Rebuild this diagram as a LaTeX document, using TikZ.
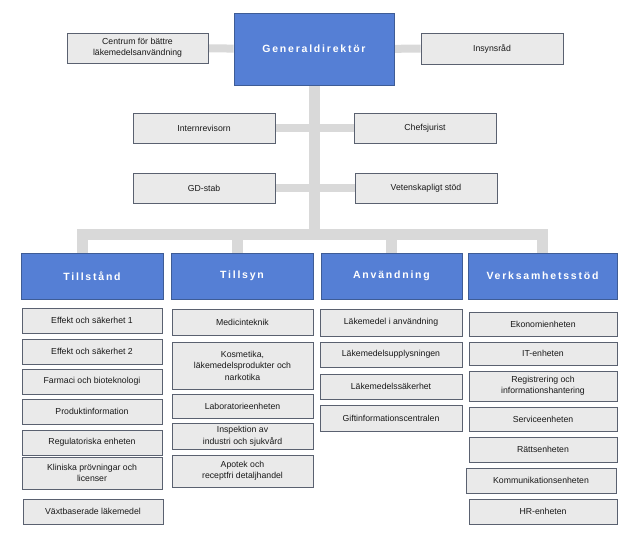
\documentclass[tikz,border=0pt]{standalone}
\usepackage{fontspec}
\setmainfont{Liberation Sans}
\newfontfamily\hdfont[LetterSpace=17]{Liberation Sans}
\usetikzlibrary{backgrounds,calc}
\definecolor{bluefill}{RGB}{85,127,213}
\definecolor{blueline}{RGB}{62,92,150}
\definecolor{grayfill}{RGB}{234,234,234}
\definecolor{grayline}{RGB}{90,97,112}
\definecolor{connc}{RGB}{217,217,217}
\tikzset{
  box/.style={draw=grayline, fill=grayfill, line width=0.9pt, align=center, inner sep=1pt,
    text=black!90, font=\fontsize{8.7}{11.5}\selectfont},
  head/.style={draw=blueline, fill=bluefill, line width=0.9pt, align=center, inner sep=1pt,
    text=white, font=\hdfont\bfseries\fontsize{10.5}{12}\selectfont},
  conn/.style={draw=connc, line width=8pt},
  trunk/.style={draw=connc, line width=11pt},
}
\begin{document}
\begin{tikzpicture}[x=1pt,y=-1pt]
\useasboundingbox (0,0) rectangle (638,534);
% top
\node[head, minimum width=160pt, minimum height=72pt] (gd) at (314,49) {Generaldirektör};
\node[box, minimum width=141pt, minimum height=30pt] (cent) at (137.5,48) {Centrum för bättre\\läkemedelsanvändning};
\node[box, minimum width=142pt, minimum height=31pt] (insyn) at (492,48.5) {Insynsråd};
\node[box, minimum width=142pt, minimum height=30pt] (intern) at (204,128) {Internrevisorn};
\node[box, minimum width=142pt, minimum height=30pt] (chef) at (425,128) {Chefsjurist};
\node[box, minimum width=142pt, minimum height=30pt] (gdstab) at (204,188) {GD-stab};
\node[box, minimum width=142pt, minimum height=30pt] (vet) at (426,188) {Vetenskapligt stöd};
\coordinate (bar) at (315,235);
% headers
\node[head, minimum width=142pt, minimum height=46pt] (t1) at (92,276) {Tillstånd};
\node[head, minimum width=142pt, minimum height=46pt] (t2) at (242,276) {Tillsyn};
\node[head, minimum width=141pt, minimum height=46pt] (t3) at (391.5,276) {Användning};
\node[head, minimum width=149pt, minimum height=46pt] (t4) at (542.5,276) {Verksamhetsstöd};
% Tillstand
\node[box, minimum width=140pt, minimum height=25pt] (e1) at (92,320.5) {Effekt och säkerhet 1};
\node[box, minimum width=140pt, minimum height=25pt] (e2) at (92,351.5) {Effekt och säkerhet 2};
\node[box, minimum width=140pt, minimum height=25pt] (farm) at (92,381.5) {Farmaci och bioteknologi};
\node[box, minimum width=140pt, minimum height=25pt] (prod) at (92,411.5) {Produktinformation};
\node[box, minimum width=140pt, minimum height=25pt] (reg) at (92,442.5) {Regulatoriska enheten};
\node[box, minimum width=140pt, minimum height=32pt] (klin) at (92,473) {Kliniska prövningar och\\licenser};
\node[box, minimum width=140pt, minimum height=25pt] (vaxt) at (93,511.5) {Växtbaserade läkemedel};
% Tillsyn
\node[box, minimum width=141pt, minimum height=26pt] (med) at (242.5,322) {Medicinteknik};
\node[box, minimum width=141pt, minimum height=47pt] (kos) at (242.5,365.5) {Kosmetika,\\läkemedelsprodukter och\\narkotika};
\node[box, minimum width=141pt, minimum height=24pt] (lab) at (242.5,406.5) {Laboratorieenheten};
\node[box, minimum width=141pt, minimum height=26pt] (insp) at (242.5,436.5) {Inspektion av\\industri och sjukvård};
\node[box, minimum width=141pt, minimum height=32pt] (apo) at (242.5,471) {Apotek och\\receptfri detaljhandel};
% Anvandning
\node[box, minimum width=142pt, minimum height=27pt] (la) at (391,322.5) {Läkemedel i användning};
\node[box, minimum width=142pt, minimum height=25pt] (lu) at (391,354.5) {Läkemedelsupplysningen};
\node[box, minimum width=142pt, minimum height=25pt] (ls) at (391,386.5) {Läkemedelssäkerhet};
\node[box, minimum width=142pt, minimum height=26pt] (gift) at (391,418) {Giftinformationscentralen};
% Verksamhetsstod
\node[box, minimum width=148pt, minimum height=24pt] (eko) at (543,324) {Ekonomienheten};
\node[box, minimum width=148pt, minimum height=23pt] (it) at (543,353.5) {IT-enheten};
\node[box, minimum width=148pt, minimum height=30pt] (regi) at (543,386) {Registrering och\\informationshantering};
\node[box, minimum width=148pt, minimum height=24pt] (serv) at (543,419) {Serviceenheten};
\node[box, minimum width=148pt, minimum height=25pt] (ratt) at (543,449.5) {Rättsenheten};
\node[box, minimum width=150pt, minimum height=25pt] (komm) at (541,480.5) {Kommunikationsenheten};
\node[box, minimum width=148pt, minimum height=25pt] (hr) at (543,511.5) {HR-enheten};
% connectors
\begin{scope}[on background layer]
\draw[conn] (cent) -- (gd);
\draw[conn] (insyn) -- (gd);
\draw[trunk] (gd) -- (gd |- bar);
\draw[conn] (intern) -- (intern -| gd);
\draw[conn] (chef) -- (chef -| gd);
\draw[conn] (gdstab) -- (gdstab -| gd);
\draw[conn] (vet) -- (vet -| gd);
\draw[trunk] ([xshift=-9.5pt]t1.north) |- (bar) -| (t4.north);
\draw[trunk] ([xshift=-4.5pt]t2.north) -- ([xshift=-4.5pt]t2.north |- bar);
\draw[trunk] (t3.north) -- (t3.north |- bar);
\end{scope}
\end{tikzpicture}
\end{document}
